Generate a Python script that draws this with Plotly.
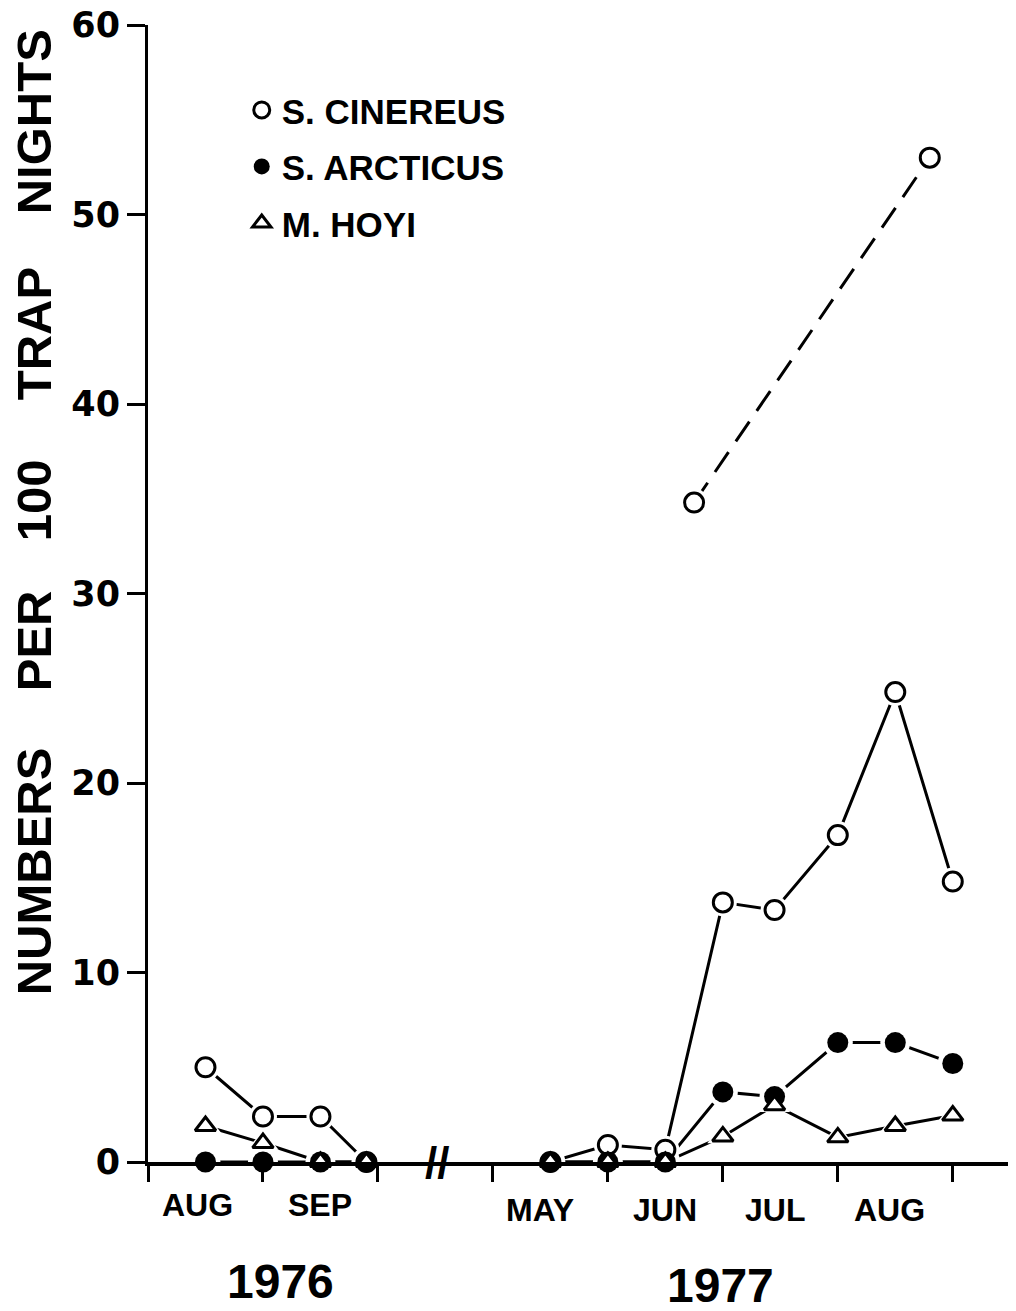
import plotly.graph_objects as go

# ---------------- data ----------------
x_1976 = [0.5, 1.0, 1.5, 1.9]
x_1977 = [3.5, 4.0, 4.5, 5.0, 5.45, 6.0, 6.5, 7.0]

cinereus_1976 = [5.0, 2.4, 2.4, 0.0]
cinereus_1977 = [0.0, 0.9, 0.65, 13.7, 13.3, 17.25, 24.8, 14.8]
arcticus_1976 = [0.0, 0.0, 0.0, 0.0]
arcticus_1977 = [0.0, 0.0, 0.0, 3.7, 3.45, 6.3, 6.3, 5.2]
hoyi_1976 = [1.9, 1.0, 0.0, 0.0]
hoyi_1977 = [0.0, 0.0, 0.0, 1.35, 3.0, 1.3, 1.9, 2.45]

cinereus_alt_x = [4.75, 6.8]
cinereus_alt = [34.8, 53.0]

tick_positions = [0, 1, 2, 3, 4, 5, 6, 7]
month_labels = ["AUG", "SEP", "MAY", "JUN", "JUL", "AUG"]
month_label_x = [0.43, 1.5, 3.41, 4.5, 5.45, 6.45]
year_labels = ["1976", "1977"]
year_label_x = [1.15, 4.98]
y_ticks = [0, 10, 20, 30, 40, 50, 60]
y_title_words = ["NUMBERS", "PER", "100", "TRAP", "NIGHTS"]
names = ["S. CINEREUS", "S. ARCTICUS", "M. HOYI"]

# ---------------- styles ----------------
BLACK = "black"
LW = 3
styles = {
    "cin": dict(symbol="circle", size=19, color="white", line=dict(color=BLACK, width=3)),
    "arc": dict(symbol="circle", size=21, color=BLACK, line=dict(color=BLACK, width=0)),
    "hoy": dict(symbol="triangle-up", size=18, color="white", line=dict(color=BLACK, width=3)),
}
series = [
    ("cin", x_1976, cinereus_1976), ("cin", x_1977, cinereus_1977),
    ("arc", x_1976, arcticus_1976), ("arc", x_1977, arcticus_1977),
    ("hoy", x_1976, hoyi_1976), ("hoy", x_1977, hoyi_1977),
]

fig = go.Figure()

# lines
for key, xs, ys in series:
    fig.add_trace(go.Scatter(x=xs, y=ys, mode="lines", line=dict(color=BLACK, width=LW),
                             showlegend=False, hoverinfo="skip", cliponaxis=False))
fig.add_trace(go.Scatter(x=cinereus_alt_x, y=cinereus_alt, mode="lines",
                         line=dict(color=BLACK, width=LW, dash="24px,13px"),
                         showlegend=False, hoverinfo="skip", cliponaxis=False))

# white halos (gap between line and marker)
for key, xs, ys in series + [("cin", cinereus_alt_x, cinereus_alt)]:
    s = styles[key]
    fig.add_trace(go.Scatter(x=xs, y=ys, mode="markers",
                             marker=dict(symbol=s["symbol"], size=s["size"] + 9, color="white",
                                         line=dict(width=0)),
                             showlegend=False, hoverinfo="skip", cliponaxis=False))

# markers
for key, xs, ys in series + [("cin", cinereus_alt_x, cinereus_alt)]:
    fig.add_trace(go.Scatter(x=xs, y=ys, mode="markers", marker=styles[key],
                             showlegend=False, cliponaxis=False))

# legend entries
for key, name, grp in zip(["cin", "arc", "hoy"], names, ["a", "b", "c"]):
    s = dict(styles[key])
    s["size"] = 16
    fig.add_trace(go.Scatter(x=[None], y=[None], mode="markers", marker=s,
                             name=name, legendgroup=grp, showlegend=True))

fig.update_xaxes(range=[0, 7.55], showgrid=False, zeroline=False, showline=True,
                 linecolor=BLACK, linewidth=4, ticks="outside", ticklen=16, tickwidth=3,
                 tickcolor=BLACK, tickvals=tick_positions, automargin=False,
                 ticktext=[""] * len(tick_positions))
fig.update_yaxes(range=[0, 60], showgrid=False, zeroline=False, showline=True,
                 linecolor=BLACK, linewidth=3, ticks="outside", ticklen=18, tickwidth=3,
                 tickcolor=BLACK, tickvals=y_ticks, automargin=False,
                 ticklabeloverflow="allow",
                 tickfont=dict(family="DejaVu Sans", size=35, color=BLACK, weight="bold"))

annotations = []
bold = dict(family="Liberation Sans Narrow, Liberation Sans, Arial, sans-serif", color=BLACK, weight="bold")
for i, (lab, xv) in enumerate(zip(month_labels, month_label_x)):
    yv = -0.0378 if i < 2 else -0.042
    annotations.append(dict(x=xv, y=yv, xref="x", yref="paper", text=lab, showarrow=False,
                            xanchor="center", yanchor="middle", font=dict(size=32, **bold)))
for lab, xv, yv in zip(year_labels, year_label_x, [-0.1047, -0.1082]):
    annotations.append(dict(x=xv, y=yv, xref="x", yref="paper", text=lab, showarrow=False,
                            xanchor="center", yanchor="middle",
                            font=dict(family="Liberation Sans, Arial", size=48, color=BLACK,
                                      weight="bold")))
# y axis title words
for word, py in zip(y_title_words, [871, 641, 500, 334, 122]):
    annotations.append(dict(x=-0.131, y=(1162 - py) / 1137, xref="paper", yref="paper",
                            text=word, showarrow=False, textangle=-90,
                            xanchor="center", yanchor="middle", font=dict(size=49, **bold)))
# axis break mark
annotations.append(dict(x=2.51, y=0, xref="x", yref="y", text="//", showarrow=False,
                        xanchor="center", yanchor="middle",
                        font=dict(family="Liberation Sans, Arial", size=44, color=BLACK,
                                  weight="bold")))

# the page body has an 8px default margin, so the figure is sized to fit the window
fig.update_layout(
    width=1008, height=1303,
    margin=dict(l=140, r=0, t=17, b=149, autoexpand=False),
    paper_bgcolor="white", plot_bgcolor="white",
    annotations=annotations,
    showlegend=True,
    legend=dict(x=0.108, y=0.951, xanchor="left", yanchor="top",
                font=dict(family="Liberation Sans, Arial", size=35, color=BLACK, weight="bold"),
                bgcolor="rgba(0,0,0,0)", tracegroupgap=8, itemsizing="trace"),
)

fig.write_html("out.html")
